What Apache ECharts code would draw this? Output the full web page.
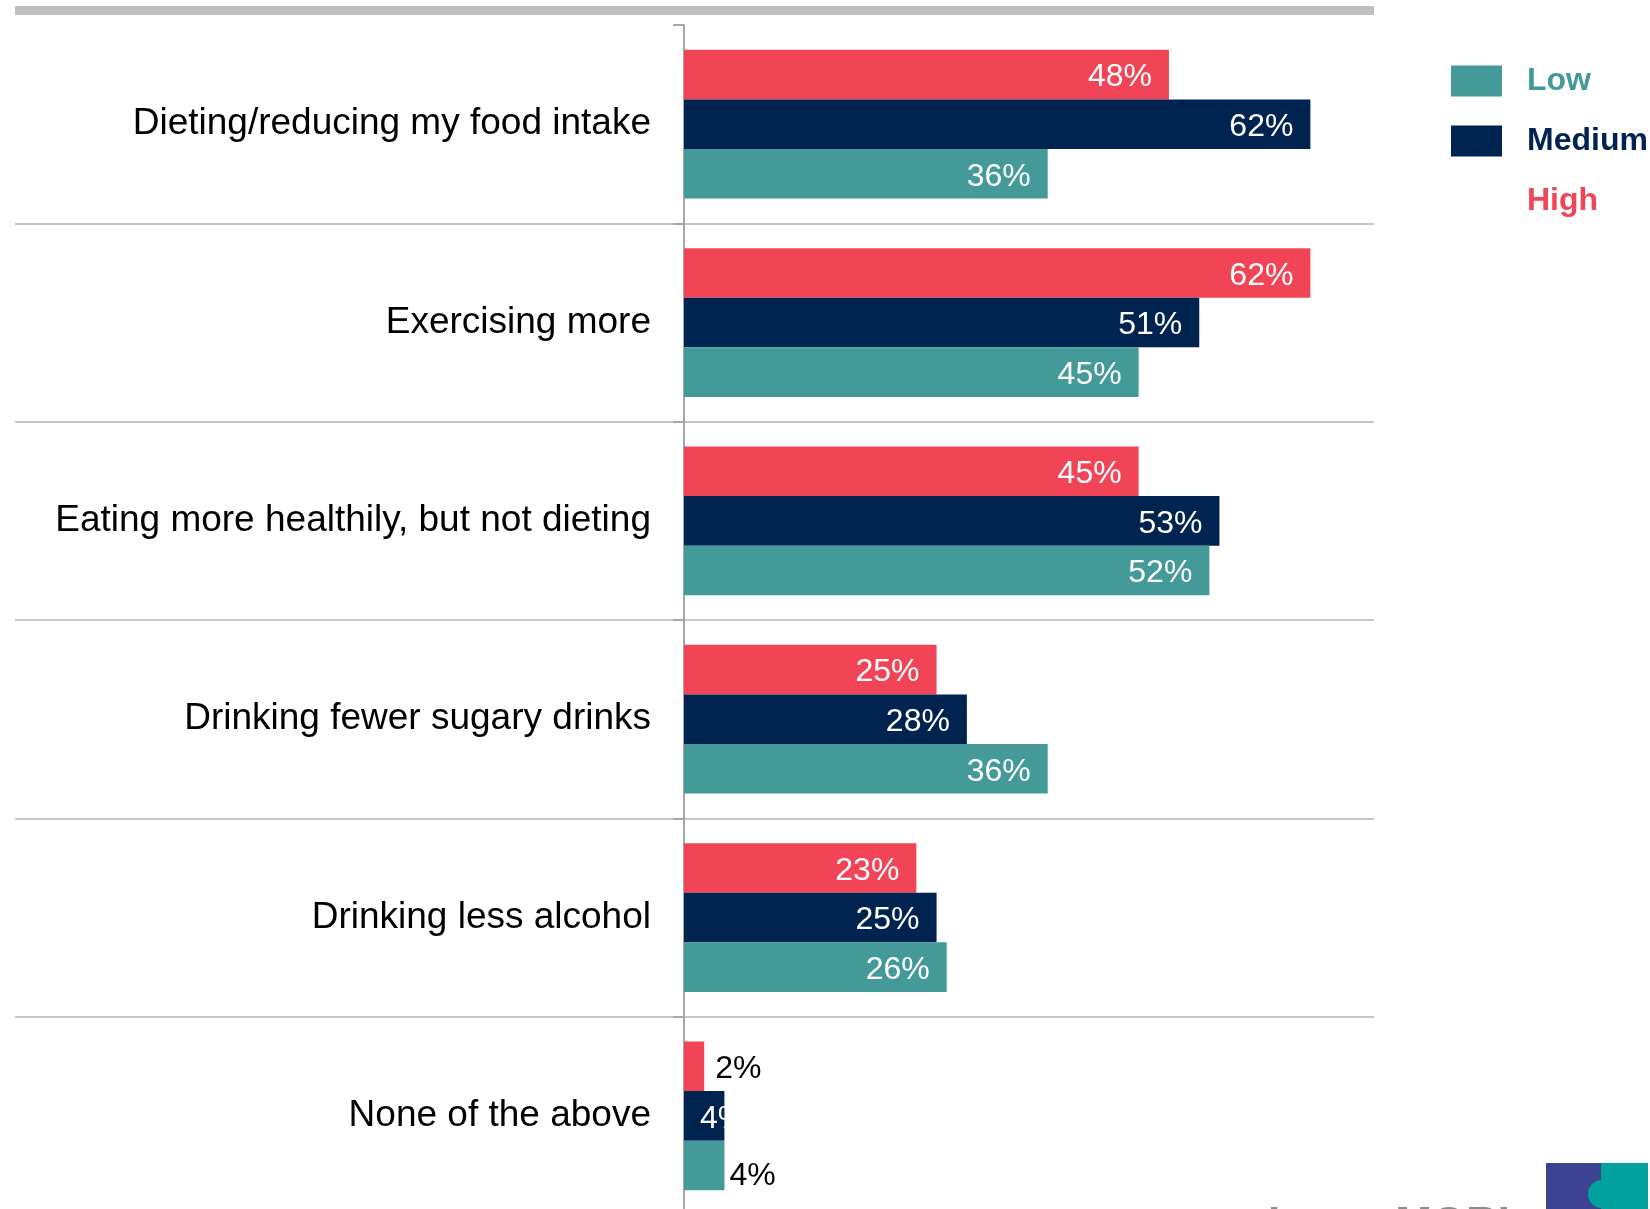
<!DOCTYPE html>
<html>
<head>
<meta charset="utf-8">
<script src="https://cdn.jsdelivr.net/npm/echarts@6/dist/echarts.min.js"></script>
<style>
  html, body { margin: 0; padding: 0; background: #ffffff; }
  #chart { width: 1650px; height: 1209px; }
</style>
</head>
<body>
<div id="chart"></div>
<script>
// Weight-loss actions by group (percent of respondents)
const categories = [
  'Dieting/reducing my food intake',
  'Exercising more',
  'Eating more healthily, but not dieting',
  'Drinking fewer sugary drinks',
  'Drinking less alcohol',
  'None of the above'
];
const highValues   = [48, 62, 45, 25, 23, 2];
const mediumValues = [62, 51, 53, 28, 25, 4];
const lowValues    = [36, 45, 52, 36, 26, 4];

const COLORS = { Low: '#439a98', Medium: '#002350', High: '#f24457' };
const FONT = '"Liberation Sans", Arial, sans-serif';

const insideLabel = {
  show: true,
  position: 'insideRight',
  distance: 17,
  offset: [0, 3],
  formatter: '{c}%',
  color: '#ffffff',
  fontSize: 32,
  fontFamily: FONT
};

// last row: small bars carry their labels outside
function withSmallRow(values, lastLabel) {
  return values.map((v, i) => i === values.length - 1
    ? { value: v, label: Object.assign({}, insideLabel, lastLabel) }
    : v);
}

const chart = echarts.init(document.getElementById('chart'), null, { renderer: 'canvas' });

const ROWS_TOP = 25;
const ROWS_HEIGHT = 1190;

const option = {
  backgroundColor: '#ffffff',
  animation: false,
  textStyle: { fontFamily: FONT },
  grid: [
    // full-width band used for the row separators
    { left: 15, top: ROWS_TOP, width: 1359, height: ROWS_HEIGHT, outerBoundsMode: 'none', containLabel: false },
    // bar area
    { left: 684, top: ROWS_TOP, width: 687, height: ROWS_HEIGHT, outerBoundsMode: 'none', containLabel: false }
  ],
  xAxis: [
    { gridIndex: 0, type: 'value', min: 0, max: 1, show: false },
    { gridIndex: 1, type: 'value', min: 0, max: 68, show: false }
  ],
  yAxis: [
    {
      gridIndex: 0, type: 'category', data: categories, inverse: true,
      axisLine: { show: false }, axisTick: { show: false }, axisLabel: { show: false },
      splitLine: {
        show: true,
        lineStyle: {
          width: 2,
          color: ['rgba(0,0,0,0)', '#c6c6c6', '#c6c6c6', '#c6c6c6', '#c6c6c6', '#c6c6c6', '#c6c6c6']
        }
      }
    },
    {
      gridIndex: 1, type: 'category', data: categories, inverse: true,
      axisLine: { show: true, lineStyle: { color: '#a6a6a6', width: 2 } },
      axisTick: { show: true, length: 11, lineStyle: { color: '#a6a6a6', width: 2 } },
      axisLabel: { show: true, margin: 33, color: '#000000', fontSize: 37, fontFamily: FONT },
      splitLine: { show: false }
    }
  ],
  legend: {
    orient: 'vertical',
    left: 1451,
    top: 65,
    padding: 0,
    itemWidth: 51,
    itemHeight: 31,
    itemGap: 28,
    icon: 'rect',
    selectedMode: false,
    textStyle: { fontSize: 32, fontWeight: 'bold', fontFamily: FONT, padding: [0, 0, 0, 20] },
    data: [
      { name: 'Low', textStyle: { color: COLORS.Low } },
      { name: 'Medium', textStyle: { color: COLORS.Medium } },
      { name: 'High', textStyle: { color: COLORS.High }, itemStyle: { opacity: 0 } }
    ]
  },
  series: [
    {
      name: 'High', type: 'bar', xAxisIndex: 1, yAxisIndex: 1,
      barCategoryGap: '25%', barGap: '0%',
      itemStyle: { color: COLORS.High },
      label: insideLabel,
      data: withSmallRow(highValues, { position: 'right', distance: 11, color: '#000000' })
    },
    {
      name: 'Medium', type: 'bar', xAxisIndex: 1, yAxisIndex: 1,
      barCategoryGap: '25%', barGap: '0%',
      itemStyle: { color: COLORS.Medium },
      label: insideLabel,
      data: withSmallRow(mediumValues, { position: 'insideLeft', distance: 16, color: '#ffffff' })
    },
    {
      name: 'Low', type: 'bar', xAxisIndex: 1, yAxisIndex: 1,
      barCategoryGap: '25%', barGap: '0%',
      itemStyle: { color: COLORS.Low },
      label: insideLabel,
      data: withSmallRow(lowValues, { position: 'right', distance: 5, offset: [0, 11], color: '#000000' })
    }
  ],
  graphic: [
    // rule under the heading
    { type: 'rect', left: 15, top: 6, shape: { width: 1359, height: 9 }, style: { fill: '#bfbfbf' }, silent: true },
    // brand mark, bottom right
    { type: 'rect', left: 1546, top: 1163, shape: { width: 55, height: 50 }, style: { fill: '#3b4392' }, silent: true },
    { type: 'rect', left: 1601, top: 1163, shape: { width: 47, height: 50 }, style: { fill: '#00a19e' }, silent: true },
    { type: 'circle', shape: { cx: 1602, cy: 1194, r: 14 }, style: { fill: '#00a19e' }, silent: true },
    { type: 'text', left: 1268, top: 1204, style: { text: 'Ipsos MORI', fontSize: 44, fontWeight: 'bold', fill: '#8c8c8c', fontFamily: FONT }, silent: true }
  ]
};

chart.setOption(option);
</script>
</body>
</html>
